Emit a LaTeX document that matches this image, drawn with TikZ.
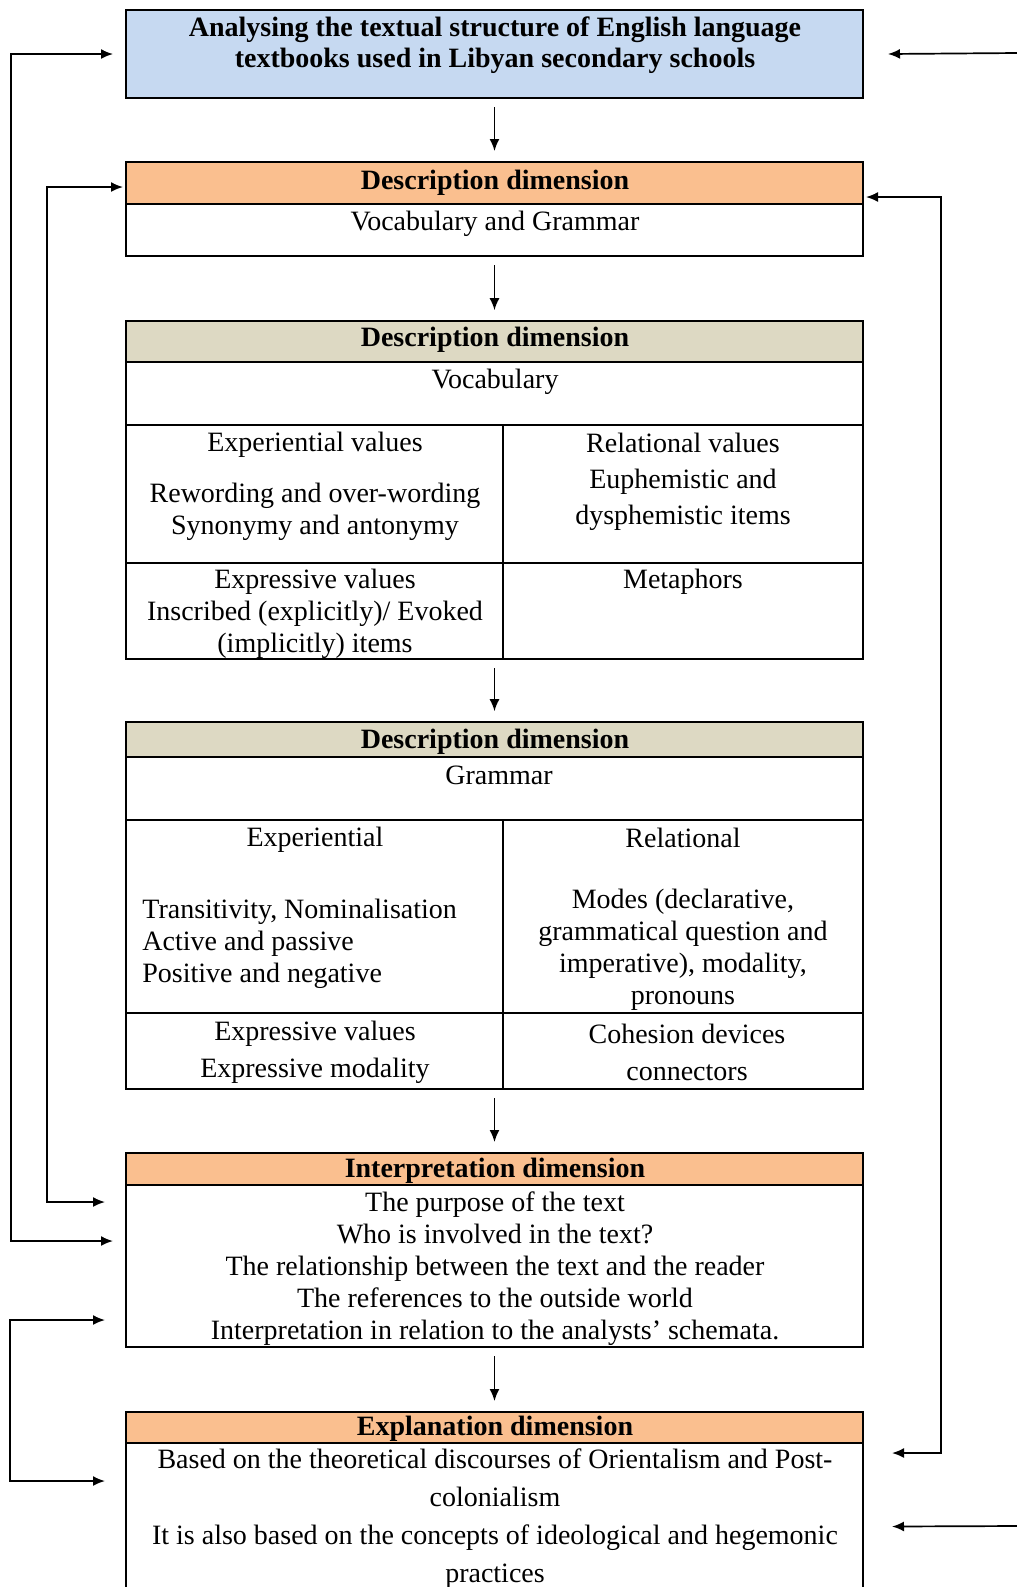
\documentclass[tikz,border=0pt]{standalone}
\usepackage{fontspec}
\setmainfont{Liberation Serif}
\usetikzlibrary{arrows.meta}
\usetikzlibrary{positioning}
\usetikzlibrary{fit}
\definecolor{aimblue}{RGB}{198,217,241}
\definecolor{dimorange}{RGB}{250,191,143}
\definecolor{dimtan}{RGB}{221,217,195}

\begin{document}
\begin{tikzpicture}[x=0.5pt,y=-0.5pt,
  every node/.style={inner sep=0pt,font=\fontsize{14}{16}\selectfont},
  cell/.style={draw,line width=0.8pt},
  frame/.style={draw,line width=1pt},
  bold/.style={font=\fontsize{14}{15.5}\selectfont\bfseries},
  down/.style={-{Latex[length=6pt,width=5pt]},line width=0.85pt,shorten <=4pt,shorten >=5pt},
  back/.style={{Latex[length=6pt,width=5pt]}-{Latex[length=6pt,width=5pt]},line width=0.85pt},
  into/.style={-{Latex[length=6pt,width=5pt]},line width=0.85pt}]
  \useasboundingbox (0,0) rectangle (1017,1587);
  \clip (0,0) rectangle (1017,1587);

  % aim of the analysis
  \node[frame,fill=aimblue,fit={(126,10) (863,98)}](aim){};
  \node[bold,align=center](aimT) at (495,45){Analysing the textual structure of English language\\textbooks used in Libyan secondary schools};

  % description: vocabulary and grammar
  \node[frame,fill=dimorange,fit={(126,162) (863,204)}](vgH){};
  \node[frame,fit={(126,204) (863,256)}](vgB){};
  \node[bold](vgHT) at (495,183){Description dimension};
  \node(vgBT) at (495,224){Vocabulary and Grammar};

  % description: vocabulary
  \node[cell,fill=dimtan,fit={(126,321) (863,362)}](vH){};
  \node[cell,fit={(126,362) (863,425)}](vVoc){};
  \node[cell,fit={(126,425) (503,563)}](vExp){};
  \node[cell,fit={(503,425) (863,563)}](vRel){};
  \node[cell,fit={(126,563) (503,659)}](vExpr){};
  \node[cell,fit={(503,563) (863,659)}](vMet){};
  \node[frame,fit={(126,321) (863,659)}](voc){};
  \node[bold](vHT) at (495,340){Description dimension};
  \node(vVocT) at (495,382){Vocabulary};
  \node(vExpT) at (315,445){Experiential values};
  \node[align=center](vExpL) at (315,512){Rewording and over-wording\\Synonymy and antonymy};
  \node[align=center,font=\fontsize{14}{18}\selectfont](vRelT) at (683,482){Relational values\\Euphemistic and\\dysphemistic items};
  \node[align=center](vExprT) at (315,614){Expressive values\\Inscribed (explicitly)/ Evoked\\(implicitly) items};
  \node(vMetT) at (683,582){Metaphors};

  % description: grammar
  \node[cell,fill=dimtan,fit={(126,722) (863,757)}](gH){};
  \node[cell,fit={(126,757) (863,820)}](gGr){};
  \node[cell,fit={(126,820) (503,1013)}](gExp){};
  \node[cell,fit={(503,820) (863,1013)}](gRel){};
  \node[cell,fit={(126,1013) (503,1089)}](gExpr){};
  \node[cell,fit={(503,1013) (863,1089)}](gCoh){};
  \node[frame,fit={(126,722) (863,1089)}](gram){};
  \node[bold](gHT) at (495,742){Description dimension};
  \node(gGrT) at (499,775){Grammar};
  \node(gExpT) at (315,840){Experiential};
  \node[align=left,anchor=west](gExpL) at (142,944){Transitivity, Nominalisation\\Active and passive\\Positive and negative};
  \node(gRelT) at (683,838){Relational};
  \node[align=center](gRelL) at (683,950){Modes (declarative,\\grammatical question and\\imperative), modality,\\pronouns};
  \node[align=center,font=\fontsize{14}{18.5}\selectfont](gExprT) at (315,1052){Expressive values\\Expressive modality};
  \node[align=center,font=\fontsize{14}{18.5}\selectfont](gCohT) at (687,1052){Cohesion devices\\connectors};

  % interpretation
  \node[frame,fill=dimorange,fit={(126,1153) (863,1185)}](iH){};
  \node[frame,fit={(126,1185) (863,1347)}](iB){};
  \node[bold](iHT) at (495,1171){Interpretation dimension};
  \node[align=center](iBT) at (495,1269){The purpose of the text\\Who is involved in the text?\\The relationship between the text and the reader\\The references to the outside world\\Interpretation in relation to the analysts’ schemata.};

  % explanation
  \node[frame,fill=dimorange,fit={(126,1412) (863,1443)}](eH){};
  \node[frame,fit={(126,1443) (863,1610)}](eB){};
  \node[bold](eHT) at (495,1429){Explanation dimension};
  \node[align=center,font=\fontsize{14}{19}\selectfont](eBT) at (495,1519){Based on the theoretical discourses of Orientalism and Post-\\colonialism\\It is also based on the concepts of ideological and hegemonic\\practices};

  % main flow
  \draw[down](aim)--(vgH);
  \draw[down](vgB)--(vH);
  \draw[down](voc)--(gH);
  \draw[down](gram)--(iH);
  \draw[down](iB)--(eH);

  % feedback loops
  \coordinate (aTurn) at (11,1241);
  \coordinate (bTurn) at (47,1202);
  \coordinate (cTurn) at (10,1481);
  \coordinate (dTurn) at (941,1453);
  \coordinate (eStart) at (1017,53);
  \coordinate (fStart) at (1017,1526);
  \draw[back]([xshift=-6pt]aim.west) -| (aTurn) -- ([xshift=-6pt,yshift=12.5pt]iB.west);
  \draw[back]([xshift=-1pt,yshift=-2pt]vgH.west) -| (bTurn) -- ([xshift=-10pt,yshift=32pt]iB.west);
  \draw[back]([xshift=-10pt,yshift=-27pt]iB.west) -| (cTurn) -- ([xshift=-10pt,yshift=22.75pt]eB.west);
  \draw[back]([xshift=1pt,yshift=-7pt]vgH.east) -| (dTurn) -- ([xshift=14pt,yshift=36.75pt]eB.east);
  \draw[into](eStart) -- ([xshift=12pt]aim.east);
  \draw[into](fStart) -- ([xshift=14pt]eB.east);
\end{tikzpicture}
\end{document}
